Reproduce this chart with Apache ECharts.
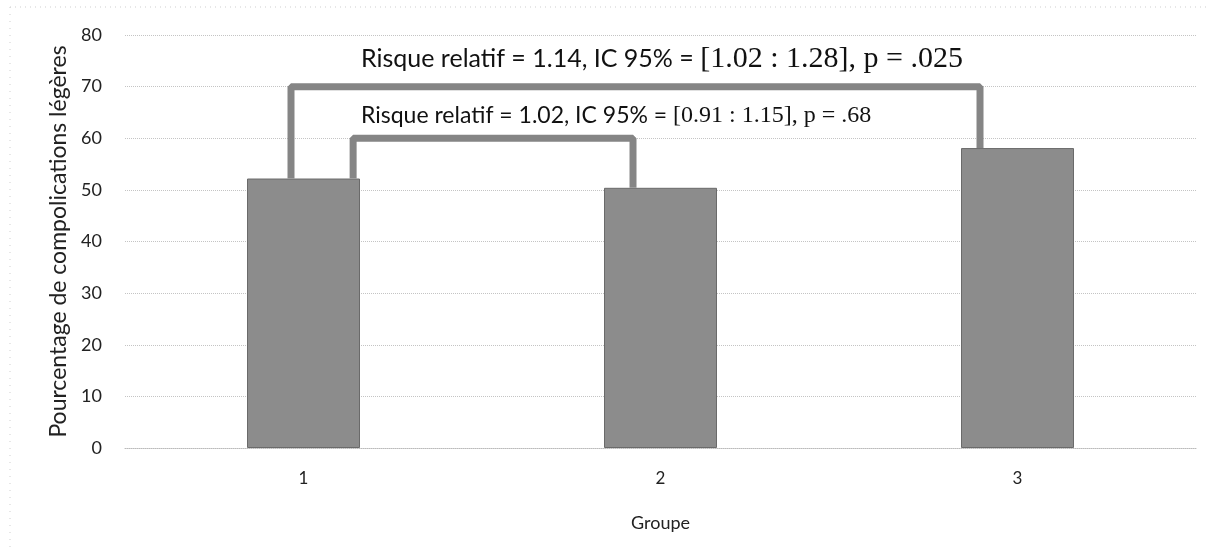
<!DOCTYPE html>
<html><head><meta charset="utf-8">
<script src="https://cdn.jsdelivr.net/npm/echarts@6/dist/echarts.min.js"></script>
<style>html,body{margin:0;padding:0;background:#fff}#c{width:1218px;height:560px}</style>
</head><body><div id="c"></div>
<script>
const categories = ['1', '2', '3'];
const values = [52.2, 50.4, 58.1];
const yTicks = [0, 10, 20, 30, 40, 50, 60, 70, 80];
// brackets in (category index, value) space
const bracketOuter = [[-0.035, 52.2], [-0.035, 70], [1.895, 70], [1.895, 58.1]];
const bracketInner = [[0.139, 52.2], [0.139, 60], [0.923, 60], [0.923, 50.4]];
const labelOuter = ['Risque relatif = 1.14, IC 95% = ', '[1.02 : 1.28], p = .025'];
const labelInner = ['Risque relatif = 1.02, IC 95% = ', '[0.91 : 1.15], p = .68'];

const chart = echarts.init(document.getElementById('c'));
const sans = "Lato, 'Open Sans', sans-serif";
const serif = "'Liberation Serif', 'DejaVu Serif', serif";
chart.setOption({
  animation: false,
  backgroundColor: '#fff',
  title: [
    { text: '{a|' + labelOuter[0] + '}{b|' + labelOuter[1] + '}', left: 356, top: 39,
      textStyle: { fontWeight: 'normal', rich: {
        a: { fontFamily: sans, fontSize: 25, fontWeight: 'normal', color: '#111' },
        b: { fontFamily: serif, fontSize: 30, fontWeight: 'normal', color: '#111' } } } },
    { text: '{a|' + labelInner[0] + '}{b|' + labelInner[1] + '}', left: 356, top: 99,
      textStyle: { fontWeight: 'normal', rich: {
        a: { fontFamily: sans, fontSize: 23, fontWeight: 'normal', color: '#111' },
        b: { fontFamily: serif, fontSize: 24, fontWeight: 'normal', color: '#111' } } } }
  ],
  graphic: [
    { type: 'line', shape: { x1: 10, y1: 7, x2: 1208, y2: 7 }, style: { stroke: '#cfcfcf', lineDash: [1, 4], lineWidth: 1 } },
    { type: 'line', shape: { x1: 10, y1: 7, x2: 10, y2: 553 }, style: { stroke: '#cfcfcf', lineDash: [1, 6], lineWidth: 1 } }
  ],
  grid: { left: 125, right: 22, top: 35, bottom: 112 },
  xAxis: [
    { type: 'category', data: categories,
      axisLine: { lineStyle: { color: '#bbb', type: 'dotted' } }, axisTick: { show: false },
      axisLabel: { fontFamily: sans, fontSize: 17, color: '#222', margin: 22 },
      name: 'Groupe', nameLocation: 'middle', nameGap: 66,
      nameTextStyle: { fontFamily: sans, fontSize: 18, color: '#222' } },
    { type: 'value', min: -0.5, max: 2.5, show: false }
  ],
  yAxis: {
    type: 'value', min: 0, max: 80, interval: 10,
    axisLine: { show: false }, axisTick: { show: false },
    axisLabel: { fontFamily: sans, fontSize: 18, color: '#222', margin: 23 },
    splitLine: { lineStyle: { color: '#c4c4c4', type: 'dotted', width: 1 } },
    name: 'Pourcentage de compolications légères', nameLocation: 'middle', nameGap: 53,
    nameTextStyle: { fontFamily: sans, fontSize: 23, color: '#222' }
  },
  series: [
    { type: 'bar', data: values, barWidth: 113, xAxisIndex: 0,
      itemStyle: { color: '#8c8c8c', borderColor: '#6a6a6a', borderWidth: 1 } },
    { type: 'line', xAxisIndex: 1, data: bracketOuter, symbol: 'none', z: 5,
      lineStyle: { color: '#858585', width: 7 } },
    { type: 'line', xAxisIndex: 1, data: bracketInner, symbol: 'none', z: 5,
      lineStyle: { color: '#858585', width: 7 } }
  ]
});
</script></body></html>
